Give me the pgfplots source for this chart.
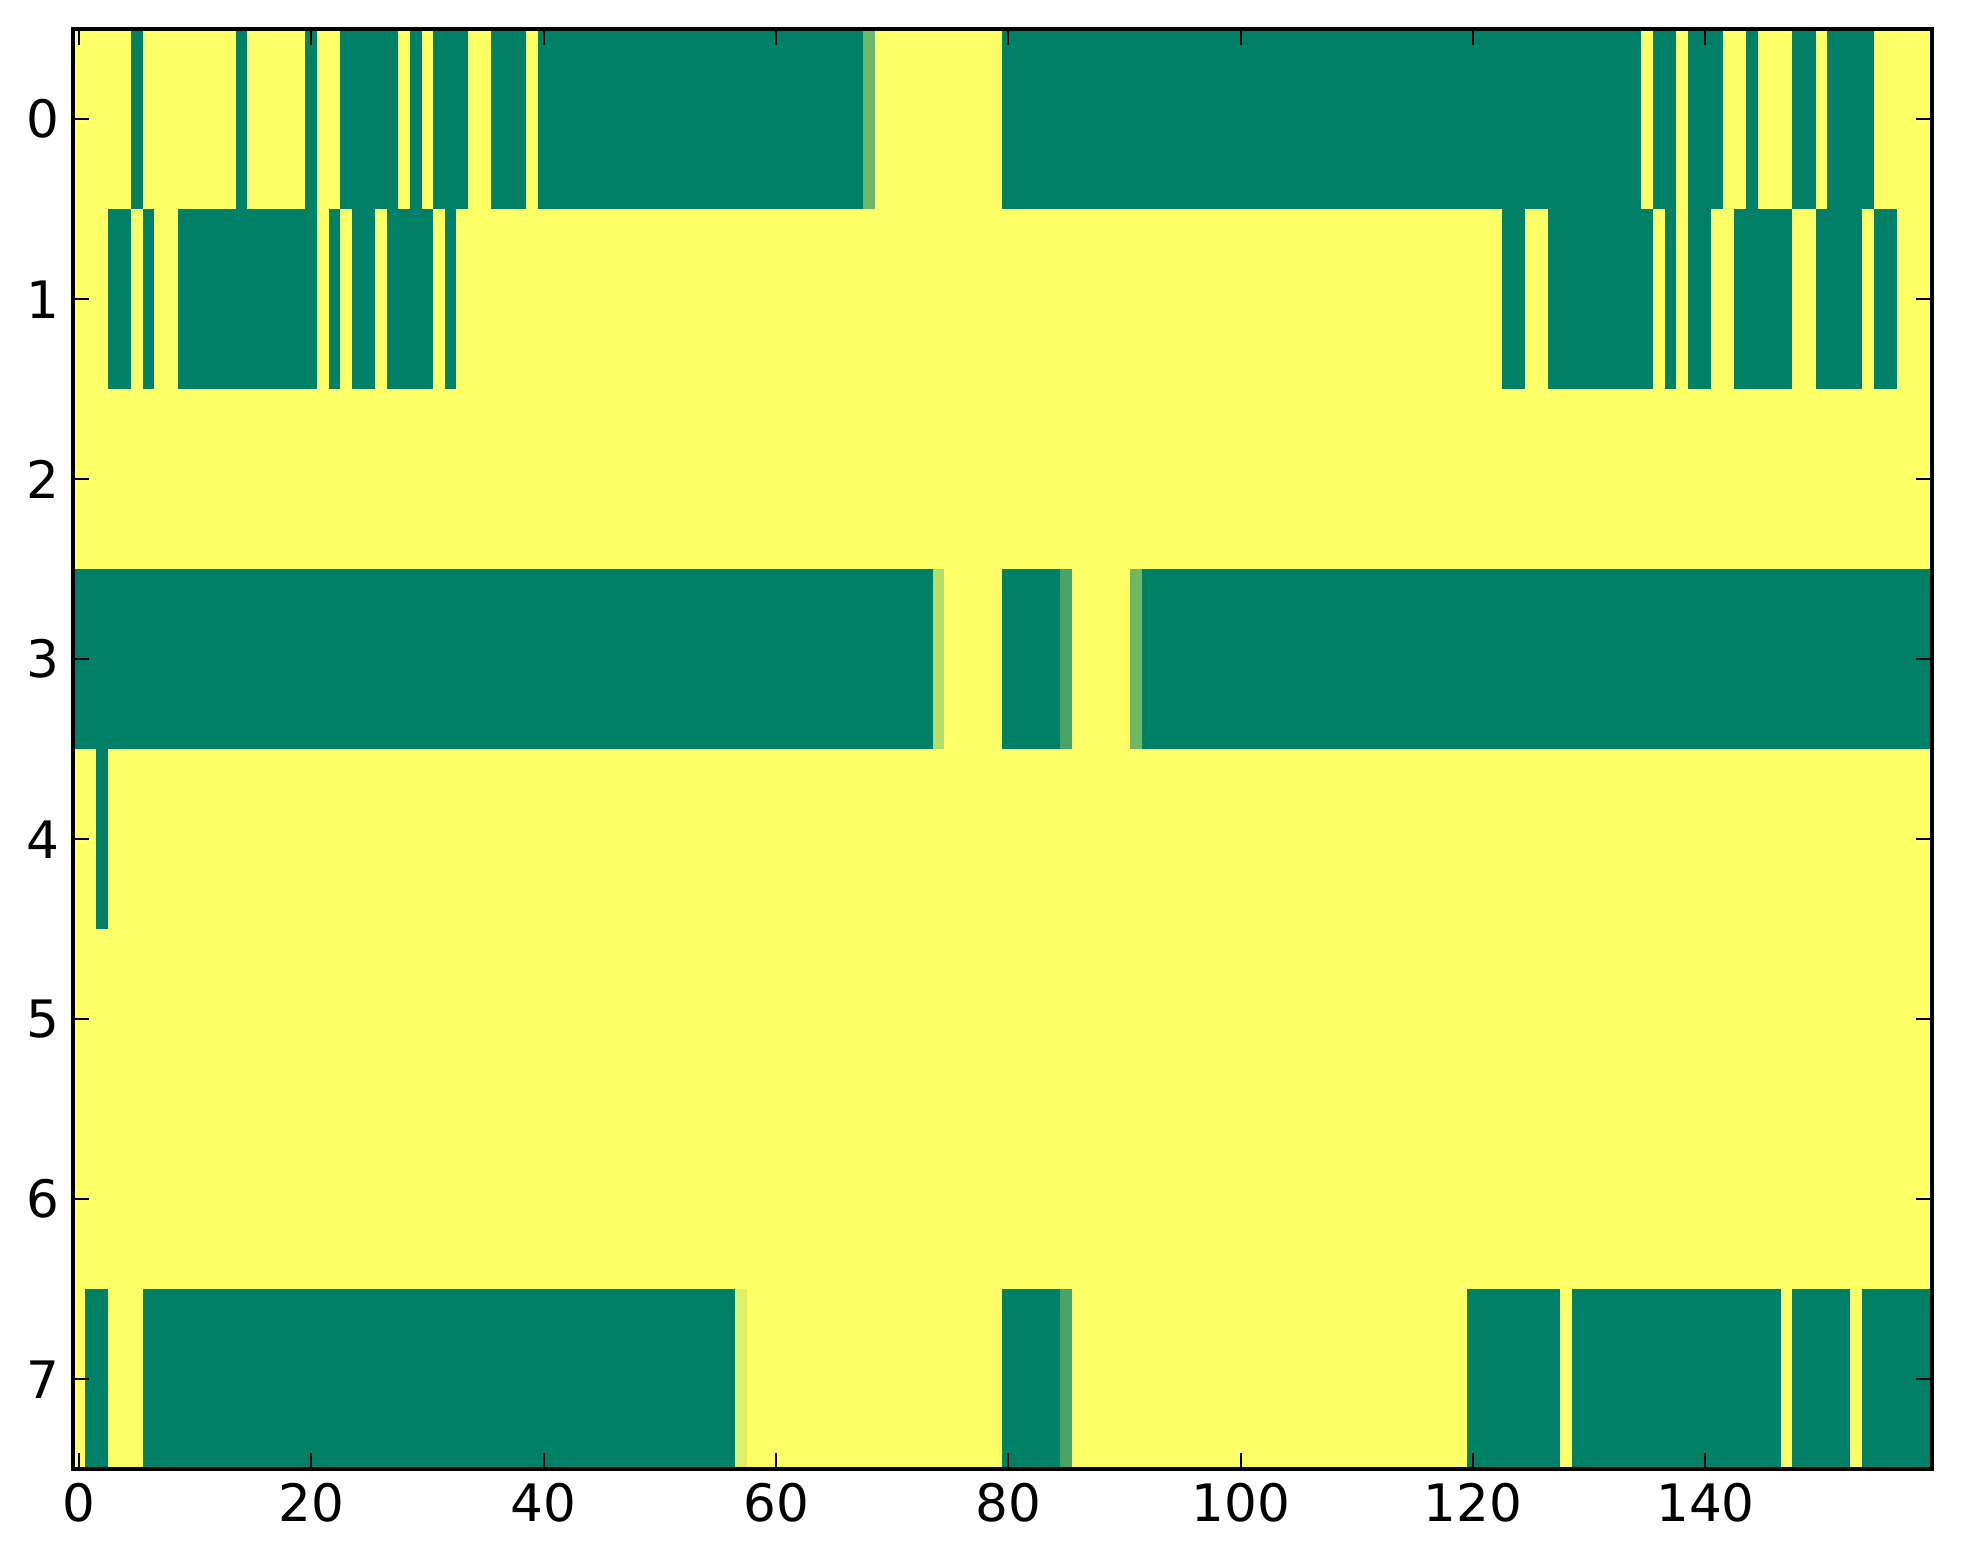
\documentclass[border=0pt]{standalone}
\usepackage{fontspec}
\setmainfont{DejaVu Sans}
\usepackage{pgfplots}
\usepgfplotslibrary{patchplots}
\pgfplotsset{compat=1.18}
% Runs of equal value in each row of the 8 x 160 image, as rectangles
% (four corners each): x y c
\pgfplotstableread{
x y c
-0.5 -0.5 1
4.5 -0.5 1
4.5 0.5 1
-0.5 0.5 1
4.5 -0.5 0
5.5 -0.5 0
5.5 0.5 0
4.5 0.5 0
5.5 -0.5 1
13.5 -0.5 1
13.5 0.5 1
5.5 0.5 1
13.5 -0.5 0
14.5 -0.5 0
14.5 0.5 0
13.5 0.5 0
14.5 -0.5 1
19.5 -0.5 1
19.5 0.5 1
14.5 0.5 1
19.5 -0.5 0
20.5 -0.5 0
20.5 0.5 0
19.5 0.5 0
20.5 -0.5 1
22.5 -0.5 1
22.5 0.5 1
20.5 0.5 1
22.5 -0.5 0
27.5 -0.5 0
27.5 0.5 0
22.5 0.5 0
27.5 -0.5 1
28.5 -0.5 1
28.5 0.5 1
27.5 0.5 1
28.5 -0.5 0
29.5 -0.5 0
29.5 0.5 0
28.5 0.5 0
29.5 -0.5 1
30.5 -0.5 1
30.5 0.5 1
29.5 0.5 1
30.5 -0.5 0
33.5 -0.5 0
33.5 0.5 0
30.5 0.5 0
33.5 -0.5 1
35.5 -0.5 1
35.5 0.5 1
33.5 0.5 1
35.5 -0.5 0
38.5 -0.5 0
38.5 0.5 0
35.5 0.5 0
38.5 -0.5 1
39.5 -0.5 1
39.5 0.5 1
38.5 0.5 1
39.5 -0.5 0
67.5 -0.5 0
67.5 0.5 0
39.5 0.5 0
67.5 -0.5 0.43
68.5 -0.5 0.43
68.5 0.5 0.43
67.5 0.5 0.43
68.5 -0.5 1
79.5 -0.5 1
79.5 0.5 1
68.5 0.5 1
79.5 -0.5 0
134.5 -0.5 0
134.5 0.5 0
79.5 0.5 0
134.5 -0.5 1
135.5 -0.5 1
135.5 0.5 1
134.5 0.5 1
135.5 -0.5 0
137.5 -0.5 0
137.5 0.5 0
135.5 0.5 0
137.5 -0.5 1
138.5 -0.5 1
138.5 0.5 1
137.5 0.5 1
138.5 -0.5 0
141.5 -0.5 0
141.5 0.5 0
138.5 0.5 0
141.5 -0.5 1
143.5 -0.5 1
143.5 0.5 1
141.5 0.5 1
143.5 -0.5 0
144.5 -0.5 0
144.5 0.5 0
143.5 0.5 0
144.5 -0.5 1
147.5 -0.5 1
147.5 0.5 1
144.5 0.5 1
147.5 -0.5 0
149.5 -0.5 0
149.5 0.5 0
147.5 0.5 0
149.5 -0.5 1
150.5 -0.5 1
150.5 0.5 1
149.5 0.5 1
150.5 -0.5 0
154.5 -0.5 0
154.5 0.5 0
150.5 0.5 0
154.5 -0.5 1
159.5 -0.5 1
159.5 0.5 1
154.5 0.5 1
-0.5 0.5 1
2.5 0.5 1
2.5 1.5 1
-0.5 1.5 1
2.5 0.5 0
4.5 0.5 0
4.5 1.5 0
2.5 1.5 0
4.5 0.5 1
5.5 0.5 1
5.5 1.5 1
4.5 1.5 1
5.5 0.5 0
6.5 0.5 0
6.5 1.5 0
5.5 1.5 0
6.5 0.5 1
8.5 0.5 1
8.5 1.5 1
6.5 1.5 1
8.5 0.5 0
20.5 0.5 0
20.5 1.5 0
8.5 1.5 0
20.5 0.5 1
21.5 0.5 1
21.5 1.5 1
20.5 1.5 1
21.5 0.5 0
22.5 0.5 0
22.5 1.5 0
21.5 1.5 0
22.5 0.5 1
23.5 0.5 1
23.5 1.5 1
22.5 1.5 1
23.5 0.5 0
25.5 0.5 0
25.5 1.5 0
23.5 1.5 0
25.5 0.5 1
26.5 0.5 1
26.5 1.5 1
25.5 1.5 1
26.5 0.5 0
30.5 0.5 0
30.5 1.5 0
26.5 1.5 0
30.5 0.5 1
31.5 0.5 1
31.5 1.5 1
30.5 1.5 1
31.5 0.5 0
32.5 0.5 0
32.5 1.5 0
31.5 1.5 0
32.5 0.5 1
122.5 0.5 1
122.5 1.5 1
32.5 1.5 1
122.5 0.5 0
124.5 0.5 0
124.5 1.5 0
122.5 1.5 0
124.5 0.5 1
126.5 0.5 1
126.5 1.5 1
124.5 1.5 1
126.5 0.5 0
135.5 0.5 0
135.5 1.5 0
126.5 1.5 0
135.5 0.5 1
136.5 0.5 1
136.5 1.5 1
135.5 1.5 1
136.5 0.5 0
137.5 0.5 0
137.5 1.5 0
136.5 1.5 0
137.5 0.5 1
138.5 0.5 1
138.5 1.5 1
137.5 1.5 1
138.5 0.5 0
140.5 0.5 0
140.5 1.5 0
138.5 1.5 0
140.5 0.5 1
142.5 0.5 1
142.5 1.5 1
140.5 1.5 1
142.5 0.5 0
147.5 0.5 0
147.5 1.5 0
142.5 1.5 0
147.5 0.5 1
149.5 0.5 1
149.5 1.5 1
147.5 1.5 1
149.5 0.5 0
153.5 0.5 0
153.5 1.5 0
149.5 1.5 0
153.5 0.5 1
154.5 0.5 1
154.5 1.5 1
153.5 1.5 1
154.5 0.5 0
156.5 0.5 0
156.5 1.5 0
154.5 1.5 0
156.5 0.5 1
159.5 0.5 1
159.5 1.5 1
156.5 1.5 1
-0.5 1.5 1
159.5 1.5 1
159.5 2.5 1
-0.5 2.5 1
-0.5 2.5 0
73.5 2.5 0
73.5 3.5 0
-0.5 3.5 0
73.5 2.5 0.72
74.5 2.5 0.72
74.5 3.5 0.72
73.5 3.5 0.72
74.5 2.5 1
79.5 2.5 1
79.5 3.5 1
74.5 3.5 1
79.5 2.5 0
84.5 2.5 0
84.5 3.5 0
79.5 3.5 0
84.5 2.5 0.28
85.5 2.5 0.28
85.5 3.5 0.28
84.5 3.5 0.28
85.5 2.5 1
90.5 2.5 1
90.5 3.5 1
85.5 3.5 1
90.5 2.5 0.43
91.5 2.5 0.43
91.5 3.5 0.43
90.5 3.5 0.43
91.5 2.5 0
159.5 2.5 0
159.5 3.5 0
91.5 3.5 0
-0.5 3.5 1
1.5 3.5 1
1.5 4.5 1
-0.5 4.5 1
1.5 3.5 0
2.5 3.5 0
2.5 4.5 0
1.5 4.5 0
2.5 3.5 1
159.5 3.5 1
159.5 4.5 1
2.5 4.5 1
-0.5 4.5 1
159.5 4.5 1
159.5 5.5 1
-0.5 5.5 1
-0.5 5.5 1
159.5 5.5 1
159.5 6.5 1
-0.5 6.5 1
-0.5 6.5 1
0.5 6.5 1
0.5 7.5 1
-0.5 7.5 1
0.5 6.5 0
2.5 6.5 0
2.5 7.5 0
0.5 7.5 0
2.5 6.5 1
5.5 6.5 1
5.5 7.5 1
2.5 7.5 1
5.5 6.5 0
56.5 6.5 0
56.5 7.5 0
5.5 7.5 0
56.5 6.5 0.87
57.5 6.5 0.87
57.5 7.5 0.87
56.5 7.5 0.87
57.5 6.5 1
79.5 6.5 1
79.5 7.5 1
57.5 7.5 1
79.5 6.5 0
84.5 6.5 0
84.5 7.5 0
79.5 7.5 0
84.5 6.5 0.28
85.5 6.5 0.28
85.5 7.5 0.28
84.5 7.5 0.28
85.5 6.5 1
119.5 6.5 1
119.5 7.5 1
85.5 7.5 1
119.5 6.5 0
127.5 6.5 0
127.5 7.5 0
119.5 7.5 0
127.5 6.5 1
128.5 6.5 1
128.5 7.5 1
127.5 7.5 1
128.5 6.5 0
146.5 6.5 0
146.5 7.5 0
128.5 7.5 0
146.5 6.5 1
147.5 6.5 1
147.5 7.5 1
146.5 7.5 1
147.5 6.5 0
152.5 6.5 0
152.5 7.5 0
147.5 7.5 0
152.5 6.5 1
153.5 6.5 1
153.5 7.5 1
152.5 7.5 1
153.5 6.5 0
159.5 6.5 0
159.5 7.5 0
153.5 7.5 0
}\runs
\begin{document}
\begin{tikzpicture}
\begin{axis}[
  at={(0,0)}, anchor=south west,
  scale only axis, width=464.7pt, height=360pt,
  xmin=-0.5, xmax=159.5, ymin=-0.5, ymax=7.5, y dir=reverse,
  xtick={0,20,...,140}, ytick={0,1,...,7},
  tick label style={font=\fontsize{12.9}{15}\selectfont},
  /pgf/number format/assume math mode=true,
  major tick length=4pt,
  tick style={black, line width=0.5pt},
  axis line style={line width=1pt},
  axis on top,
  colormap={summer}{rgb=(0,0.5,0.4) rgb=(1,1,0.4)},
  point meta min=0, point meta max=1,
]
\addplot[patch, patch type=rectangle, shader=flat, line width=0.1pt, point meta=explicit]
  table[x=x, y=y, meta=c] {\runs};
\end{axis}
\pgfresetboundingbox
\path[use as bounding box] (-18.3pt,-23.75pt) rectangle (472.45pt,367.3pt);
\end{tikzpicture}
\end{document}
